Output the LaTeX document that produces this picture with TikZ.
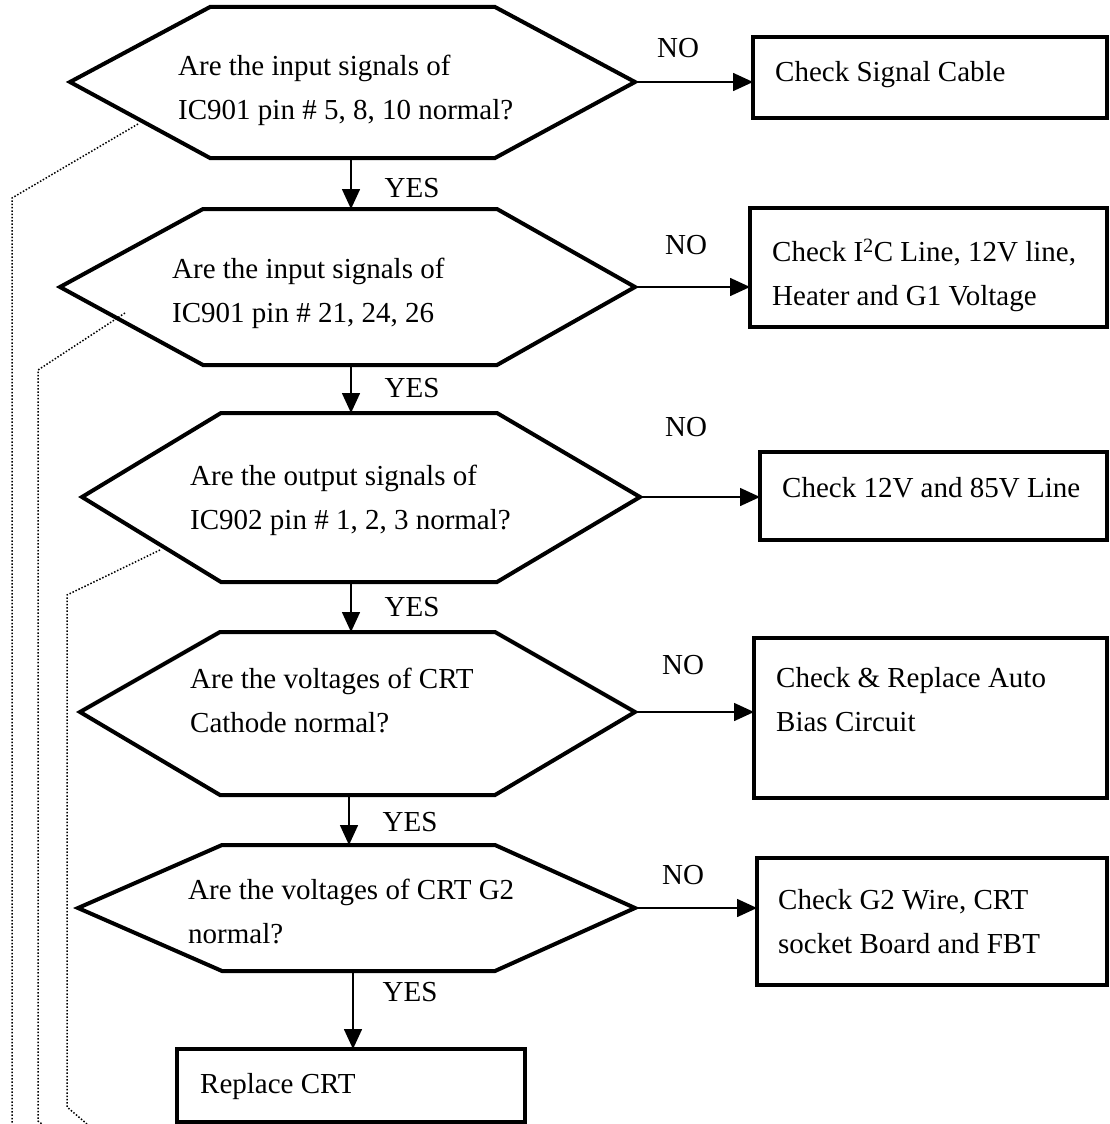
\documentclass[tikz,border=0pt]{standalone}
\usepackage{fontspec}
\setmainfont{Liberation Serif}
\usetikzlibrary{arrows.meta}
\begin{document}
\begin{tikzpicture}[x=1pt,y=-1pt,
  shape line/.style={line width=4pt,line join=miter},
  flow/.style={line width=1.6pt,-{Triangle[length=20pt,width=18pt]}},
  trace/.style={line width=1.5pt,dash pattern=on 1.5pt off 1.8pt},
  txt/.style={anchor=west,align=left,inner sep=0pt,font=\fontsize{29}{44}\selectfont},
  lbl/.style={inner sep=0pt,font=\fontsize{29}{44}\selectfont}]
\useasboundingbox (0,0) rectangle (1109,1124);

% decision hexagons: left point, top-left, top-right, right point, bottom-right, bottom-left
\coordinate (h1l) at (70,82);  \coordinate (h1r) at (635,82);
\coordinate (h1t) at (351,7);  \coordinate (h1b) at (351,158);
\draw[shape line] (h1l) -- (210,7) -- (495,7) -- (h1r) -- (495,158) -- (210,158) -- cycle;

\coordinate (h2l) at (60,287); \coordinate (h2r) at (635,287);
\coordinate (h2t) at (351,209); \coordinate (h2b) at (351,365);
\draw[shape line] (h2l) -- (203,209) -- (497,209) -- (h2r) -- (497,365) -- (203,365) -- cycle;

\coordinate (h3l) at (82,497); \coordinate (h3r) at (640,497);
\coordinate (h3t) at (351,413); \coordinate (h3b) at (351,582);
\draw[shape line] (h3l) -- (221,413) -- (497,413) -- (h3r) -- (497,582) -- (221,582) -- cycle;

\coordinate (h4l) at (80,712); \coordinate (h4r) at (635,712);
\coordinate (h4t) at (351,632); \coordinate (h4b) at (349,795);
\draw[shape line] (h4l) -- (220,632) -- (495,632) -- (h4r) -- (495,795) -- (220,795) -- cycle;

\coordinate (h5l) at (78,908); \coordinate (h5r) at (635,908);
\coordinate (h5t) at (349,845); \coordinate (h5b) at (353,971);
\draw[shape line] (h5l) -- (222,845) -- (495,845) -- (h5r) -- (495,971) -- (222,971) -- cycle;

% questions
\node[txt] (q1) at (178,90) {Are the input signals of\\IC901 pin \# 5, 8, 10 normal?};
\node[txt] (q2) at (172,293) {Are the input signals of\\IC901 pin \# 21, 24, 26};
\node[txt] (q3) at (190,500) {Are the output signals of\\IC902 pin \# 1, 2, 3 normal?};
\node[txt] (q4) at (190,700) {Are the voltages of CRT\\Cathode normal?};
\node[txt] (q5) at (188,911) {Are the voltages of CRT G2\\normal?};

% action boxes
\draw[shape line] (1107,37) -- (753,37) -- (753,118) -- (1107,118) -- cycle;
\coordinate (b1) at (753,82);
\node[txt] (a1) at (775,75) {Check Signal Cable};

\draw[shape line] (1107,208) -- (750,208) -- (750,327) -- (1107,327) -- cycle;
\coordinate (b2) at (750,287);
\node[txt] (a2) at (772,275) {Check I\textsuperscript{2}C Line, 12V line,\\Heater and G1 Voltage};

\draw[shape line] (1107,452) -- (760,452) -- (760,540) -- (1107,540) -- cycle;
\coordinate (b3) at (760,497);
\node[txt] (a3) at (782,488) {Check 12V and 85V Line};

\draw[shape line] (1107,638) -- (754,638) -- (754,798) -- (1107,798) -- cycle;
\coordinate (b4) at (754,712);
\node[txt] (a4) at (776,700) {Check \& Replace Auto\\Bias Circuit};

\draw[shape line] (1107,858) -- (757,858) -- (757,985) -- (1107,985) -- cycle;
\coordinate (b5) at (757,908);
\node[txt] (a5) at (778,922) {Check G2 Wire, CRT\\socket Board and FBT};

\draw[shape line] (177,1049) rectangle (525,1122);
\coordinate (b6) at (353,1049);
\node[txt] (a6) at (200,1087) {Replace CRT};

% NO branches
\draw[flow] (h1r) -- (b1);
\draw[flow] (h2r) -- (b2);
\draw[flow] (h3r) -- (b3);
\draw[flow] (h4r) -- (b4);
\draw[flow] (h5r) -- (b5);
\node[lbl] (n1) at (678,48) {NO};
\node[lbl] (n2) at (686,245) {NO};
\node[lbl] (n3) at (686,427) {NO};
\node[lbl] (n4) at (683,665) {NO};
\node[lbl] (n5) at (683,875) {NO};

% YES branches
\draw[flow] (h1b) -- (h2t);
\draw[flow] (h2b) -- (h3t);
\draw[flow] (h3b) -- (h4t);
\draw[flow] (h4b) -- (h5t);
\draw[flow] (h5b) -- (b6);
\node[lbl] (y1) at (412,188) {YES};
\node[lbl] (y2) at (412,388) {YES};
\node[lbl] (y3) at (412,607) {YES};
\node[lbl] (y4) at (410,822) {YES};
\node[lbl] (y5) at (410,992) {YES};

% dotted leader lines along the left margin
\coordinate (d1) at (138,124);
\coordinate (d2) at (125,313);
\coordinate (d3) at (160,550);
\draw[trace] (d1) -- (12,198) -- (12,1124);
\draw[trace] (d2) -- (38,370) -- (38,1121) -- (42,1124);
\draw[trace] (d3) -- (67,595) -- (67,1107) -- (87,1124);
\end{tikzpicture}
\end{document}
